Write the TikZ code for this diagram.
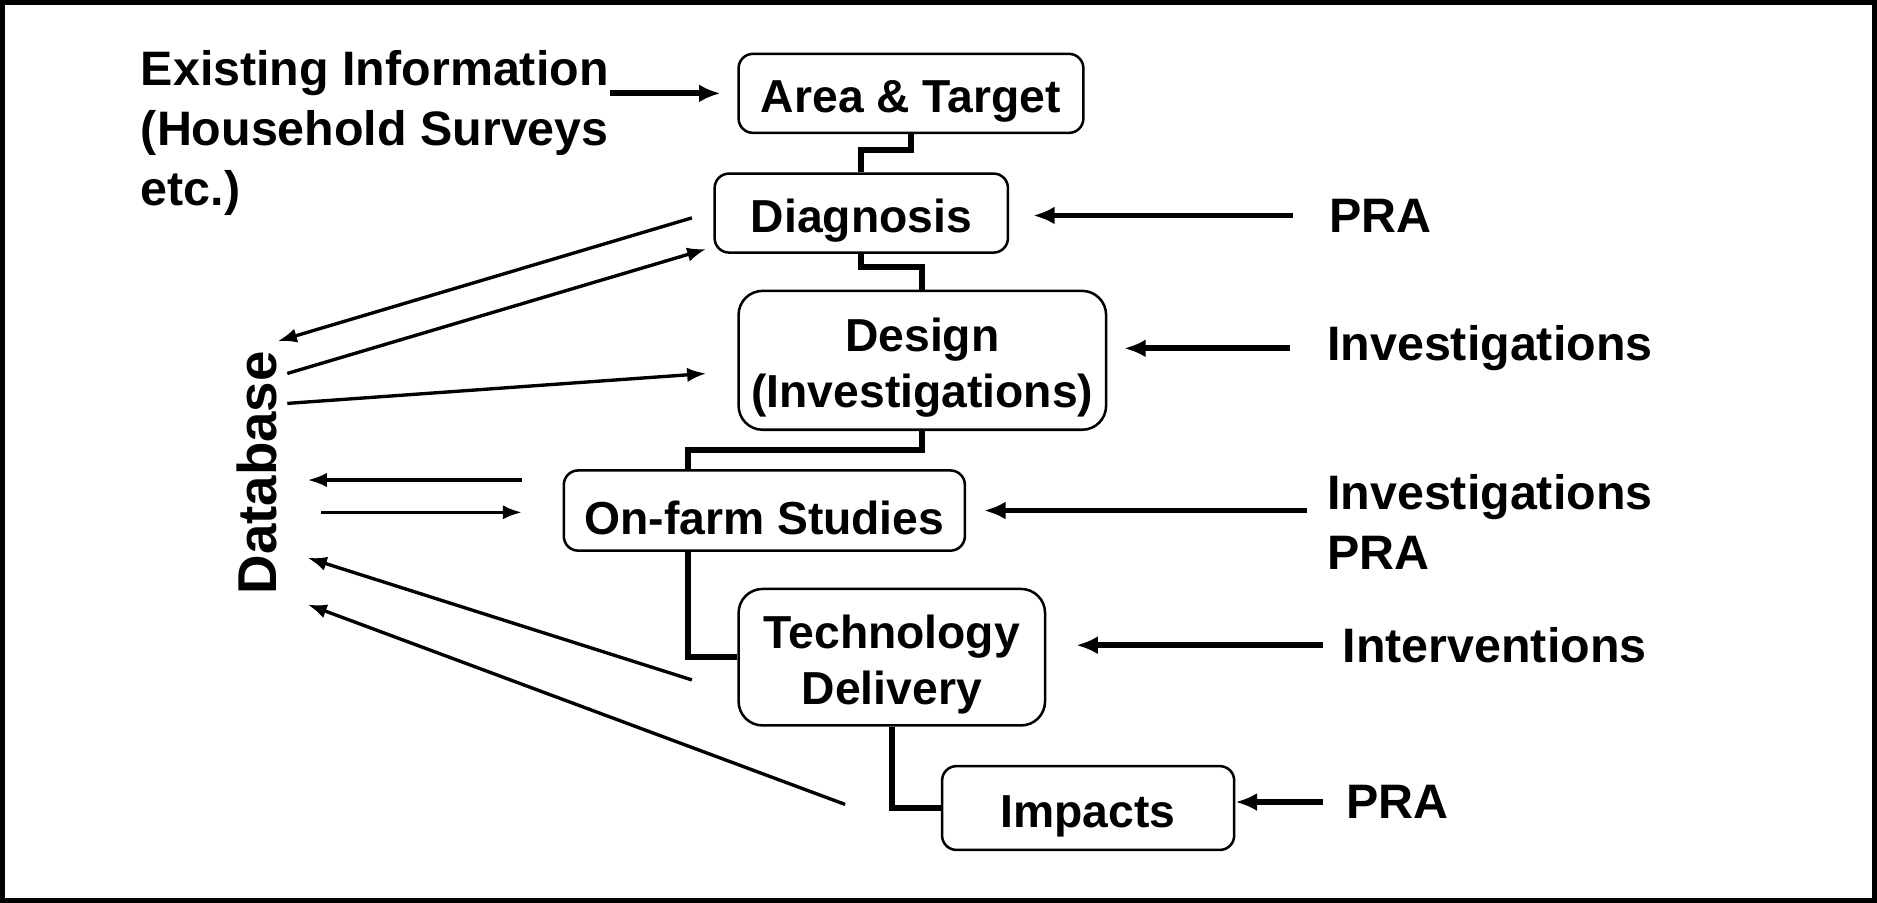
\documentclass[tikz,border=0pt]{standalone}
\usepackage{fontspec}
\setmainfont{Liberation Sans}
\usetikzlibrary{arrows.meta}
\newcommand{\boxstrut}{\rule{0pt}{11.4pt}}

\begin{document}
\begin{tikzpicture}[
    box/.style={draw,line width=0.6pt,rounded corners=1.2mm,align=center,inner sep=0pt,
      font=\fontsize{11}{13.4}\selectfont\bfseries},
    bigbox/.style={box,rounded corners=2mm},
    lbl/.style={inner sep=0pt,anchor=west,align=left,font=\fontsize{11.5}{14.2}\selectfont\bfseries},
    link/.style={line width=1.4pt},
    feed/.style={line width=1.4pt,-{Latex[length=1.8mm,width=1.5mm]}},
    dbline/.style={line width=0.8pt,-{Latex[length=1.6mm,width=1.2mm]}},
    ]
    \useasboundingbox (0,0) rectangle (15.68,-7.54);
    \draw[line width=1.1pt] (0.02,-0.02) rectangle (15.66,-7.52);

    % the chain of steps
    \node[box,minimum width=2.88cm,minimum height=0.66cm] (area) at (7.61,-0.78) {\boxstrut Area \& Target};
    \node[box,minimum width=2.45cm,minimum height=0.66cm] (diag) at (7.195,-1.78) {\boxstrut Diagnosis};
    \node[bigbox,minimum width=3.07cm,minimum height=1.16cm] (design) at (7.705,-3.01) {\boxstrut Design\\(Investigations)};
    \node[box,minimum width=3.35cm,minimum height=0.67cm] (onfarm) at (6.385,-4.265) {\boxstrut On-farm Studies};
    \node[bigbox,minimum width=2.56cm,minimum height=1.14cm] (tech) at (7.45,-5.49) {\boxstrut Technology\\Delivery};
    \node[box,minimum width=2.44cm,minimum height=0.70cm] (impacts) at (9.09,-6.75) {\boxstrut Impacts};

    \draw[link] (area.south) -- ++(0,-0.13) -| (diag.north);
    \draw[link] (diag.south) -- ++(0,-0.11) -| (design.north);
    \draw[link] (design.south) -- ++(0,-0.16) -| ([xshift=1.05cm]onfarm.north west);
    \draw[link] ([xshift=1.05cm]onfarm.south west) |- (tech.west);
    \draw[link] (tech.south) |- (impacts.west);

    % inputs
    \node[lbl] (exist) at (1.17,-1.11) {Existing Information\\(Household Surveys\\etc.)};
    \node[lbl] (pra1) at (11.10,-1.80) {PRA};
    \node[lbl] (inv) at (11.08,-2.91) {Investigations};
    \node[lbl] (invpra) at (11.08,-4.36) {Investigations\\PRA};
    \node[lbl] (intv) at (11.21,-5.39) {Interventions};
    \node[lbl] (pra2) at (11.24,-6.70) {PRA};

    \draw[feed,shorten >=1.4mm] (exist.east |- area.west) -- (area.west);
    \draw[feed,shorten <=3mm,shorten >=2mm] (pra1.west) -- (pra1.west -| diag.east);
    \draw[feed,shorten <=3mm,shorten >=1.4mm] (inv.west) -- (inv.west -| design.east);
    \draw[feed,shorten <=1.6mm,shorten >=1.5mm] (onfarm.east -| invpra.west) -- (onfarm.east);
    \draw[feed,shorten <=1.6mm,shorten >=2.5mm] (intv.west) -- (intv.west -| tech.east);
    \draw[feed,shorten <=1.9mm] (pra2.west) -- (pra2.west -| impacts.east);

    % database side
    \node[rotate=90,inner sep=0pt,font=\fontsize{13}{15}\selectfont\bfseries] (db) at (2.145,-3.95) {Database};
    \coordinate (dbin1) at (2.32,-2.85);
    \coordinate (dbout1) at (2.40,-3.12);
    \coordinate (dbout2) at (2.40,-3.37);
    \coordinate (dbin2) at (2.57,-4.01);
    \coordinate (dbout3) at (2.68,-4.28);
    \coordinate (dbin3) at (2.57,-4.66);
    \coordinate (dbin4) at (2.57,-5.05);
    \coordinate (diagout) at (5.78,-1.82);
    \coordinate (diagin) at (5.90,-2.08);
    \coordinate (designin) at (5.90,-3.12);
    \coordinate (farmout) at (4.36,-4.01);
    \coordinate (farmin) at (4.36,-4.28);
    \coordinate (techout) at (5.78,-5.68);
    \coordinate (impout) at (7.06,-6.72);

    \draw[dbline] (diagout) -- (dbin1);
    \draw[dbline] (dbout1) -- (diagin);
    \draw[dbline] (dbout2) -- (designin);
    \draw[dbline] (farmout) -- (dbin2);
    \draw[dbline] (dbout3) -- (farmin);
    \draw[dbline] (techout) -- (dbin3);
    \draw[dbline] (impout) -- (dbin4);
\end{tikzpicture}
\end{document}
